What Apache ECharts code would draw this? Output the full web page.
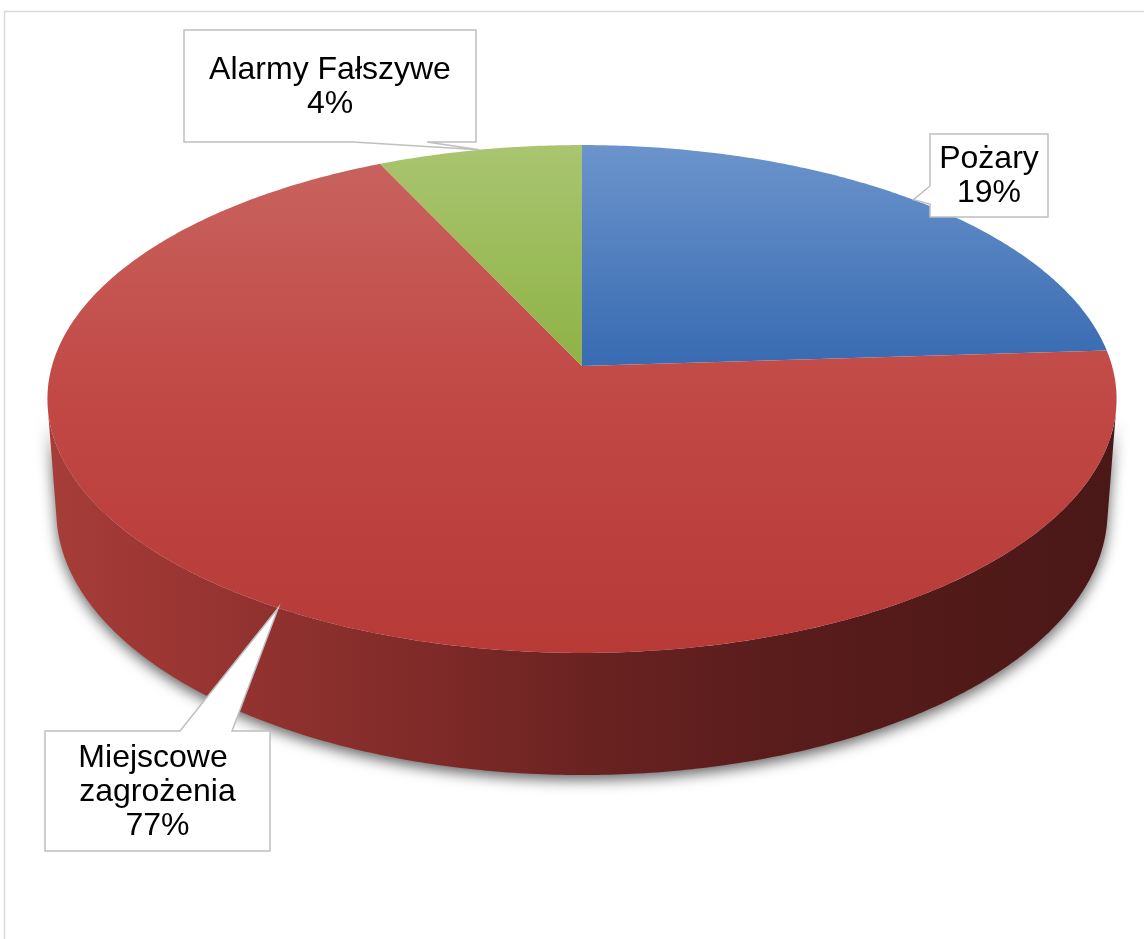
<!DOCTYPE html>
<html><head><meta charset="utf-8">
<script src="https://cdn.jsdelivr.net/npm/echarts/dist/echarts.min.js"></script>
<style>html,body{margin:0;padding:0;background:#fff}#c{width:1144px;height:939px}</style>
</head><body><div id="c"></div>
<script>
// ---- data ----
const categories = ['Pożary', 'Miejscowe zagrożenia', 'Alarmy Fałszywe'];
const sliceValues = [24, 69, 7];           // slice sizes as drawn in the picture
const labelPercents = ['19%', '77%', '4%']; // percentages as printed in the labels

// ---- view / styling (not data) ----
const VIEW = {cx: 582, cy: 366, f: 3599, D: 6.79, sinA: 0.471, cosA: 0.882, t: 0.242};
const topStops = [
  [[0, '#6b94cb'], [0.42, '#3a6cb3'], [1, '#3a6cb3']],
  [[0, '#c9645f'], [0.5, '#c14845'], [1, '#b73a37']],
  [[0, '#a9c570'], [0.45, '#8db244'], [1, '#8db244']]
];
const wallStops = [
  [[0, '#3b6aa8'], [1, '#1c3457']],
  [[0, '#a63d39'], [0.1, '#9d3734'], [0.38, '#7c2927'], [0.52, '#682220'], [0.7, '#581c1b'], [1, '#4a1817']],
  [[0, '#7f9b45'], [1, '#3e4d22']]
];
const labelBoxes = [
  {x: 930, y: 134, w: 118, h: 83, side: 'left', b: [186, 204]},
  {x: 45, y: 731, w: 225, h: 120, side: 'top', b: [180, 232]},
  {x: 184, y: 30, w: 292, h: 112, side: 'bottom', b: [353, 427]}
];

function proj(phi, rho, h) {
  const x = rho * Math.sin(phi), y = rho * Math.cos(phi);
  const depth = VIEW.D + y * VIEW.cosA - h * VIEW.sinA;
  const up = y * VIEW.sinA + h * VIEW.cosA;
  return [VIEW.cx + VIEW.f * x / depth, VIEW.cy - VIEW.f * up / depth];
}
const total = sliceValues.reduce((a, b) => a + b, 0);
const starts = [];
{ let acc = 0; sliceValues.forEach(v => { starts.push(acc / total * 2 * Math.PI); acc += v; }); }
function angles(i) { return [starts[i], starts[i] + sliceValues[i] / total * 2 * Math.PI]; }
const PHI1 = Math.acos(-1 / (VIEW.D * VIEW.cosA));
const PHI2 = 2 * Math.PI - PHI1;

function rim(a, b, h) {
  const pts = [], n = Math.max(2, Math.ceil((b - a) / 0.01));
  for (let k = 0; k <= n; k++) pts.push(proj(a + (b - a) * k / n, 1, h));
  return pts;
}

function wallItem(params) {
  const i = params.dataIndex;
  const [s, e] = angles(i);
  const a = Math.max(s, PHI1), b = Math.min(e, PHI2);
  if (a >= b) return {type: 'group', children: []};
  const pts = rim(a, b, 0).concat(rim(a, b, -VIEW.t).reverse());
  const left = proj(PHI2, 1, 0)[0], right = proj(PHI1, 1, 0)[0];
  return {
    type: 'polygon', shape: {points: pts},
    style: {
      fill: new echarts.graphic.LinearGradient(left, 0, right, 0,
        wallStops[i].map(s => ({offset: s[0], color: s[1]})), true),
      shadowBlur: 14, shadowColor: 'rgba(0,0,0,0.6)', shadowOffsetY: 5
    }
  };
}

function topItem(params) {
  const i = params.dataIndex;
  const [s, e] = angles(i);
  const pts = [proj(0, 0, 0)].concat(rim(s, e, 0));
  const y0 = proj(0, 1, 0)[1], y1 = proj(Math.PI, 1, 0)[1];
  return {
    type: 'polygon', shape: {points: pts},
    style: {
      fill: new echarts.graphic.LinearGradient(0, y0, 0, y1,
        topStops[i].map(s => ({offset: s[0], color: s[1]})), true)
    }
  };
}

function labelItem(params) {
  const i = params.dataIndex;
  const [s, e] = angles(i);
  const tip = proj((s + e) / 2, 1, 0);
  const B = labelBoxes[i];
  const x0 = B.x, y0 = B.y, x1 = B.x + B.w, y1 = B.y + B.h;
  const p = [[x0, y0]];
  if (B.side === 'top') p.push([B.b[0], y0], tip, [B.b[1], y0]);
  p.push([x1, y0]);
  if (B.side === 'right') p.push([x1, B.b[0]], tip, [x1, B.b[1]]);
  p.push([x1, y1]);
  if (B.side === 'bottom') p.push([B.b[1], y1], tip, [B.b[0], y1]);
  p.push([x0, y1]);
  if (B.side === 'left') p.push([x0, B.b[1]], tip, [x0, B.b[0]]);
  return {
    type: 'group',
    children: [
      {type: 'polygon', shape: {points: p},
       style: {fill: '#ffffff', stroke: '#bfbfbf', lineWidth: 1.5}},
      {type: 'text',
       style: {
         text: categories[i] + '\n' + labelPercents[i],
         x: (x0 + x1) / 2, y: (y0 + y1) / 2 + 1,
         align: 'center', verticalAlign: 'middle',
         fontFamily: 'Liberation Sans, Arial, sans-serif', fontSize: 32, lineHeight: 34,
         fill: '#000000', width: B.w + 4, overflow: 'break'
       }}
    ]
  };
}

const chart = echarts.init(document.getElementById('c'), null, {renderer: 'canvas'});
const seriesData = sliceValues.map((v, i) => ({name: categories[i], value: v}));
chart.setOption({
  animation: false,
  backgroundColor: '#ffffff',
  graphic: [{type: 'rect', shape: {x: 4.5, y: 11.5, width: 1300, height: 1000},
             style: {fill: 'none', stroke: '#d9d9d9', lineWidth: 1.5}, z: 0}],
  series: [
    {type: 'custom', coordinateSystem: 'none', z: 1, data: seriesData, renderItem: wallItem, silent: true},
    {type: 'custom', coordinateSystem: 'none', z: 2, data: seriesData, renderItem: topItem},
    {type: 'custom', coordinateSystem: 'none', z: 3, data: seriesData, renderItem: labelItem, silent: true}
  ]
});
</script></body></html>
